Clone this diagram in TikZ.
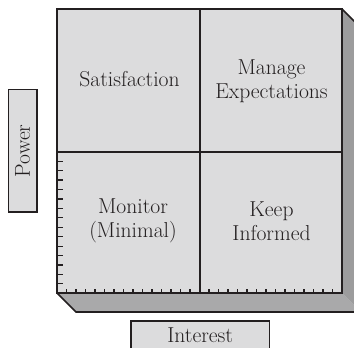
\documentclass[tikz,border=0pt]{standalone}
\usepackage{tikz}
\usepackage{xcolor}

\definecolor{cellgray}{HTML}{DCDCDD}
\definecolor{sidegray}{HTML}{A9A9AA}
\definecolor{edgegray}{HTML}{9C9C9D}
\definecolor{inkblack}{HTML}{231F20}

\tikzset{
	cell/.style={align=center, text=inkblack, font=\fontsize{16.2}{18}\selectfont},
	axisbox/.style={draw=inkblack, line width=1.2pt, fill=cellgray, text=inkblack, font=\fontsize{16.2}{18}\selectfont, inner sep=0pt},
	frame/.style={draw=inkblack, line width=1.3pt},
	tick/.style={draw=inkblack, line width=0.9pt}
}

\begin{document}
\begin{tikzpicture}[x=0.75pt, y=-0.75pt]
	\useasboundingbox (0,0) rectangle (354,347);
	% depth faces
	\fill[sidegray] (57,293) -- (342,293) -- (361,312) -- (76,312) -- cycle;
	\fill[edgegray] (342,9) -- (361,28) -- (361,312) -- (342,293) -- cycle;
	\draw[frame] (57,293) -- (76,312) -- (361,312);
	\draw[frame] (342,9) -- (361,28);
	% grid
	\fill[cellgray] (57,9) rectangle (342,293);
	\foreach \i in {1,...,14}
		\draw[tick] (57,151.7+9.44*\i) -- (63,151.7+9.44*\i);
	\foreach \i in {1,...,29}
		\draw[tick] (57+9.5*\i,293) -- (57+9.5*\i,289);
	\draw[frame] (57,9) rectangle (342,293);
	\draw[frame] (200.3,9) -- (200.3,293);
	\draw[frame] (57,151.7) -- (342,151.7);
	% labels
	\node[cell] (sat) at (129.5,79.5) {Satisfaction};
	\node[cell] (manage) at (271.5,81) {Manage\\Expectations};
	\node[cell] (monitor) at (133,221) {Monitor\\(Minimal)};
	\node[cell] (keep) at (271.5,221) {Keep\\Informed};
	\node[axisbox, rotate=90, minimum width=92pt, minimum height=21.3pt] (power) at (22.5,150.8) {Power};
	\node[axisbox, minimum width=103.7pt, minimum height=21.3pt] (interest) at (200.2,334.9) {Interest};
\end{tikzpicture}
\end{document}
